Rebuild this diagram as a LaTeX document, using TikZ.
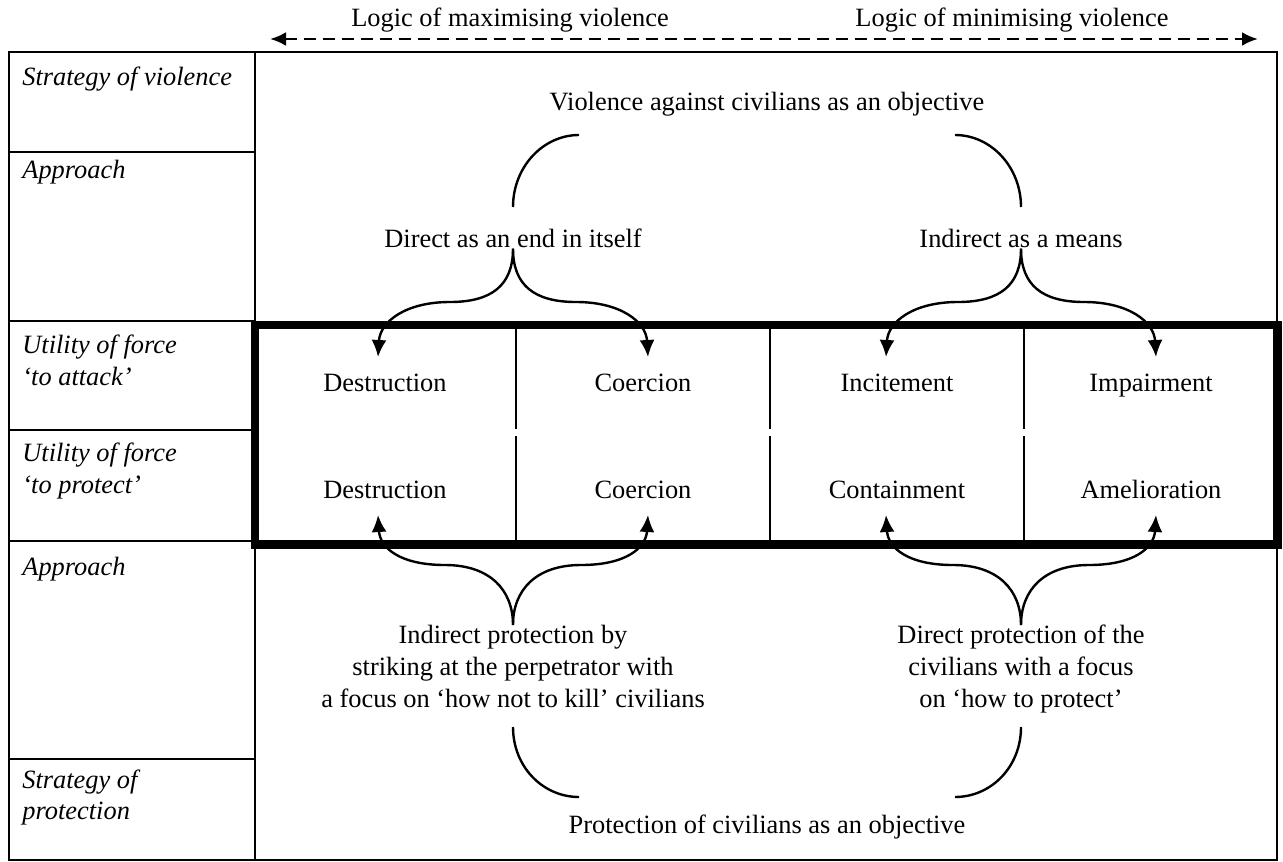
\documentclass[tikz,border=0pt]{standalone}
\usepackage{fontspec}
\setmainfont{Liberation Serif}
\usetikzlibrary{arrows.meta}

\begin{document}
\begin{tikzpicture}[x=0.5pt,y=-0.5pt,
    every node/.style={inner sep=0pt,font=\fontsize{13.2}{16}\selectfont},
    txt/.style={anchor=base},
    lbl/.style={anchor=north west,align=left,font=\fontsize{13.2}{16}\selectfont\itshape},
    thin/.style={line width=1pt},
    brace/.style={line width=1.2pt},
    barrow/.style={line width=1.2pt,-{Latex[length=8.5pt,width=7.5pt]}}]

        \useasboundingbox (0,0) rectangle (1283,861);

        % frame and label column
        \draw[thin] (9,51.7) rectangle (1277.3,859.5);
        \draw[thin] (255,51.7) -- (255,859.5);
        \draw[thin] (9,152) -- (255,152);
        \draw[thin] (9,321) -- (255,321);
        \draw[thin] (9,430) -- (255,430);
        \draw[thin] (9,541) -- (255,541);
        \draw[thin] (9,759) -- (255,759);

        \node[lbl] (lsv) at (22,67) {Strategy of violence};
        \node[lbl] (lap1) at (22,160) {Approach};
        \node[lbl] (luat) at (22,335) {Utility of force\\‘to attack’};
        \node[lbl] (lupr) at (22,443) {Utility of force\\‘to protect’};
        \node[lbl] (lap2) at (22,557) {Approach};
        \node[lbl] (lsp) at (22,769) {Strategy of\\protection};

        % logic arrow
        \node[txt] (logmax) at (510,27) {Logic of maximising violence};
        \node[txt] (logmin) at (1012,27) {Logic of minimising violence};
        \coordinate (la) at (270,39);
        \coordinate (ra) at (1258,39);
        \draw[line width=1.4pt,dash pattern=on 6pt off 3.5pt,
            {Latex[length=8pt,width=7pt]}-{Latex[length=8pt,width=7pt]}] (la) -- (ra);

        % cells
        \foreach \x in {516,770,1024} {
            \draw[thin] (\x,325) -- (\x,429);
            \draw[thin] (\x,436) -- (\x,544);
        }
        \draw[line width=4.25pt] (254.8,325) rectangle (1277.5,544.5);

        \node[txt] (att1) at (385,391) {Destruction};
        \node[txt] (att2) at (643,391) {Coercion};
        \node[txt] (att3) at (897,391) {Incitement};
        \node[txt] (att4) at (1151,391) {Impairment};
        \node[txt] (pro1) at (385,498.5) {Destruction};
        \node[txt] (pro2) at (643,498.5) {Coercion};
        \node[txt] (pro3) at (897,498.5) {Containment};
        \node[txt] (pro4) at (1151,498.5) {Amelioration};

        % violence side
        \node[txt] (violobj) at (767,111) {Violence against civilians as an objective};
        \node[txt] (direct) at (513,248) {Direct as an end in itself};
        \node[txt] (indirect) at (1021,248) {Indirect as a means};

        \coordinate (vl) at (579,135);
        \coordinate (vr) at (955,135);
        \coordinate (dtop) at (513,207);
        \coordinate (itop) at (1021,207);
        \draw[brace] (vl) .. controls (543,135) and (513,167) .. (dtop);
        \draw[brace] (vr) .. controls (991,135) and (1021,167) .. (itop);

        \coordinate (ta1) at (378,357);
        \coordinate (ta2) at (648,357);
        \coordinate (ta3) at (886,357);
        \coordinate (ta4) at (1156,357);
        \draw[barrow] (direct.south) .. controls (513,285) and (492,302) .. (450,302)
            .. controls (405,302) and (380,322) .. (ta1);
        \draw[barrow] (direct.south) .. controls (513,285) and (534,302) .. (576,302)
            .. controls (621,302) and (646,322) .. (ta2);
        \draw[barrow] (indirect.south) .. controls (1021,285) and (1000,302) .. (958,302)
            .. controls (913,302) and (888,322) .. (ta3);
        \draw[barrow] (indirect.south) .. controls (1021,285) and (1042,302) .. (1084,302)
            .. controls (1129,302) and (1154,322) .. (ta4);

        % protection side
        \node[anchor=north,align=center] (protind) at (513,625)
            {Indirect protection by\\striking at the perpetrator with\\a focus on ‘how not to kill’ civilians};
        \node[anchor=north,align=center] (protdir) at (1021,625)
            {Direct protection of the\\civilians with a focus\\on ‘how to protect’};
        \node[txt] (protobj) at (767,833) {Protection of civilians as an objective};

        \coordinate (tp1) at (378,515);
        \coordinate (tp2) at (648,515);
        \coordinate (tp3) at (886,515);
        \coordinate (tp4) at (1156,515);
        \draw[barrow] (protind.north) .. controls (513,590) and (490,565) .. (445,565)
            .. controls (400,565) and (380,548) .. (tp1);
        \draw[barrow] (protind.north) .. controls (513,590) and (536,565) .. (581,565)
            .. controls (626,565) and (646,548) .. (tp2);
        \draw[barrow] (protdir.north) .. controls (1021,590) and (998,565) .. (953,565)
            .. controls (908,565) and (888,548) .. (tp3);
        \draw[barrow] (protdir.north) .. controls (1021,590) and (1044,565) .. (1089,565)
            .. controls (1134,565) and (1154,548) .. (tp4);

        \coordinate (pbl) at (513,727);
        \coordinate (pbr) at (1021,727);
        \coordinate (pl) at (579,797);
        \coordinate (pr) at (955,797);
        \draw[brace] (pbl) .. controls (513,767) and (543,797) .. (pl);
        \draw[brace] (pbr) .. controls (1021,767) and (991,797) .. (pr);

    \end{tikzpicture}
\end{document}
